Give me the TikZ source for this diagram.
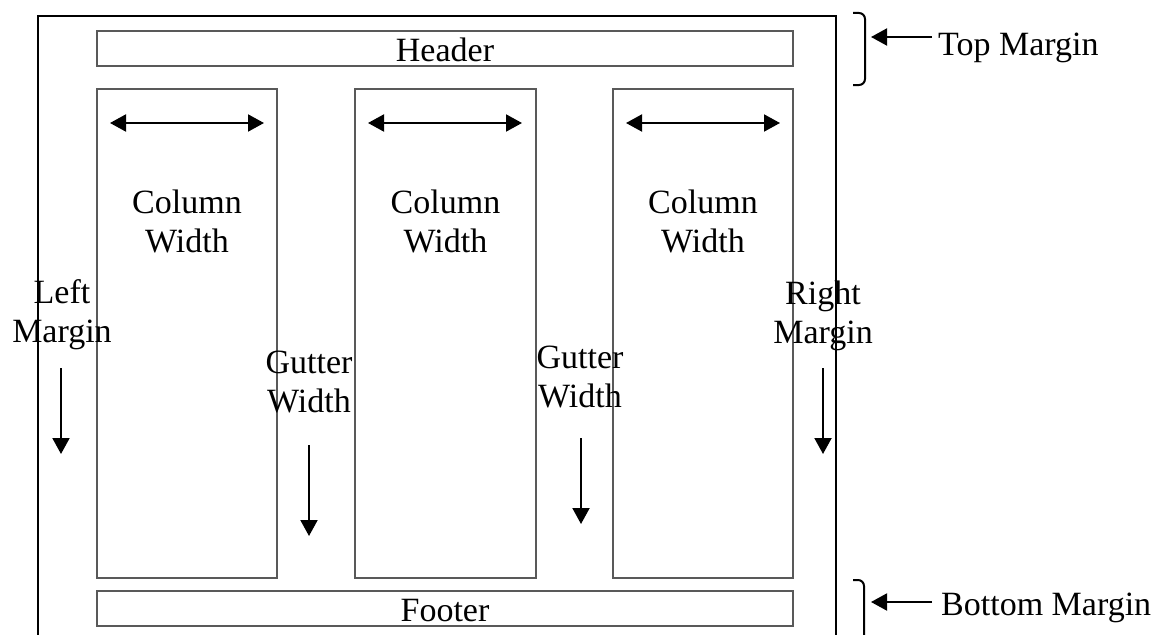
\documentclass[tikz,border=0pt]{standalone}
\usepackage{fontspec}
\setmainfont{Liberation Serif}
\usetikzlibrary{arrows.meta}
\begin{document}
\begin{tikzpicture}[x=1pt,y=-1pt,
  box/.style={draw=black!65,line width=1.3pt},
  frame/.style={draw=black,line width=2.5pt},
  arr/.style={line width=2pt,-{Triangle[length=16pt,width=17pt]}},
  darr/.style={line width=2pt,{Triangle[length=16pt,width=17pt]}-{Triangle[length=16pt,width=17pt]}},
  brace/.style={line width=2pt,rounded corners=6pt},
  lbl/.style={font=\fontsize{34}{39}\selectfont,align=center,inner sep=0pt,anchor=base}]
\useasboundingbox (0,0) rectangle (1158,634);
% page frame
\draw[frame] (38,640) -- (38,16) -- (836,16) -- (836,640);
% header, footer, columns
\node[box,minimum width=696pt,minimum height=35pt,inner sep=0pt] (header) at (445,48.5) {};
\node[box,minimum width=696pt,minimum height=35pt,inner sep=0pt] (footer) at (445,608.5) {};
\node[box,minimum width=180pt,minimum height=489pt,inner sep=0pt] (col1) at (187,333.5) {};
\node[box,minimum width=181pt,minimum height=489pt,inner sep=0pt] (col2) at (445.5,333.5) {};
\node[box,minimum width=180pt,minimum height=489pt,inner sep=0pt] (col3) at (703,333.5) {};
\node[lbl] (htext) at (445,61) {Header};
\node[lbl] (ftext) at (445,621) {Footer};
% column width arrows
\coordinate (a1l) at (110,123); \coordinate (a1r) at (264,123);
\coordinate (a2l) at (368,123); \coordinate (a2r) at (522,123);
\coordinate (a3l) at (626,123); \coordinate (a3r) at (780,123);
\draw[darr] (a1l) -- (a1r);
\draw[darr] (a2l) -- (a2r);
\draw[darr] (a3l) -- (a3r);
\node[lbl] (cw1) at (187,252) {Column\\Width};
\node[lbl] (cw2) at (445.5,252) {Column\\Width};
\node[lbl] (cw3) at (703,252) {Column\\Width};
% margins
\node[lbl] (lm) at (62,342) {Left\\Margin};
\node[lbl] (rm) at (823,343) {Right\\Margin};
\node[lbl] (g1) at (309,412) {Gutter\\Width};
\node[lbl] (g2) at (580,407) {Gutter\\Width};
\coordinate (lmA) at (61,368); \coordinate (lmB) at (61,454);
\coordinate (rmA) at (823,368); \coordinate (rmB) at (823,454);
\coordinate (g1A) at (309,445); \coordinate (g1B) at (309,536);
\coordinate (g2A) at (581,438); \coordinate (g2B) at (581,524);
\draw[arr] (lmA) -- (lmB);
\draw[arr] (rmA) -- (rmB);
\draw[arr] (g1A) -- (g1B);
\draw[arr] (g2A) -- (g2B);
% top margin brace
\draw[brace] (853,13) -- (865,13) -- (865,85) -- (853,85);
\coordinate (tmTail) at (932,37); \coordinate (tmTip) at (871,37);
\draw[arr] (tmTail) -- (tmTip);
\node[lbl,anchor=base west] (tm) at (938,56) {Top Margin};
% bottom margin brace
\draw[brace] (853,580) -- (864,580) -- (864,640);
\coordinate (bmTail) at (932,602); \coordinate (bmTip) at (871,602);
\draw[arr] (bmTail) -- (bmTip);
\node[lbl,anchor=base west] (bm) at (941,615) {Bottom Margin};
\end{tikzpicture}
\end{document}
